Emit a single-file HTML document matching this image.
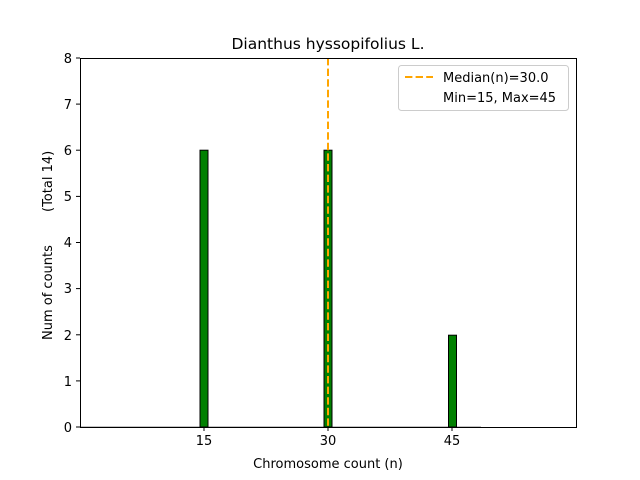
<!DOCTYPE html>
<html><head><meta charset="utf-8"><style>body{margin:0;background:#fff}svg{display:block}text{font-family:"DejaVu Sans","Liberation Sans",sans-serif;fill:#000;white-space:pre}</style></head><body>
<svg width="640" height="480" viewBox="0 0 640 480" xmlns="http://www.w3.org/2000/svg">
<rect width="640" height="480" fill="#fff"/>
<line x1="80" y1="427" x2="481" y2="427" stroke="#888" stroke-width="1"/>
<rect x="200" y="150.2" width="8" height="276.8" fill="#008000" stroke="#000" stroke-width="1"/>
<rect x="324" y="150.2" width="8" height="276.8" fill="#008000" stroke="#000" stroke-width="1"/>
<rect x="448.5" y="335.2" width="8" height="91.8" fill="#008000" stroke="#000" stroke-width="1"/>
<line x1="328" y1="58" x2="328" y2="427" stroke="#ffa500" stroke-width="2" stroke-dasharray="7.4,3.2"/>
<rect x="80.5" y="58.5" width="496" height="369" fill="none" stroke="#000" stroke-width="1"/>
<g stroke="#000" stroke-width="1">
<line x1="204" y1="427" x2="204" y2="431"/><line x1="328" y1="427" x2="328" y2="431"/><line x1="452" y1="427" x2="452" y2="431"/>
<line x1="76" y1="427" x2="80" y2="427"/><line x1="76" y1="380.9" x2="80" y2="380.9"/><line x1="76" y1="334.8" x2="80" y2="334.8"/><line x1="76" y1="288.6" x2="80" y2="288.6"/><line x1="76" y1="242.5" x2="80" y2="242.5"/><line x1="76" y1="196.4" x2="80" y2="196.4"/><line x1="76" y1="150.2" x2="80" y2="150.2"/><line x1="76" y1="104.1" x2="80" y2="104.1"/><line x1="76" y1="58" x2="80" y2="58"/>
</g>
<g font-size="13" text-anchor="middle">
<text x="204" y="445">15</text><text x="328" y="445">30</text><text x="452" y="445">45</text>
</g>
<g font-size="13" text-anchor="end">
<text x="72" y="432">0</text><text x="72" y="386">1</text><text x="72" y="340">2</text><text x="72" y="293">3</text><text x="72" y="247">4</text><text x="72" y="201">5</text><text x="72" y="155">6</text><text x="72" y="109">7</text><text x="72" y="63">8</text>
</g>
<text x="328" y="468" font-size="13" text-anchor="middle">Chromosome count (n)</text>
<text transform="translate(52,340) rotate(-90)" font-size="13">Num of counts</text>
<text transform="translate(52,212) rotate(-90)" font-size="13">(Total 14)</text>
<text x="328" y="49" font-size="15.5" text-anchor="middle">Dianthus hyssopifolius L.</text>
<rect x="398.5" y="65.5" width="170" height="45" rx="3" fill="#fff" stroke="#ccc"/>
<line x1="405" y1="77" x2="433" y2="77" stroke="#ffa500" stroke-width="2" stroke-dasharray="7.4,3.2"/>
<text x="443" y="82" font-size="13">Median(n)=30.0</text>
<text x="443" y="102" font-size="13">Min=15, Max=45</text>
</svg>
</body></html>
